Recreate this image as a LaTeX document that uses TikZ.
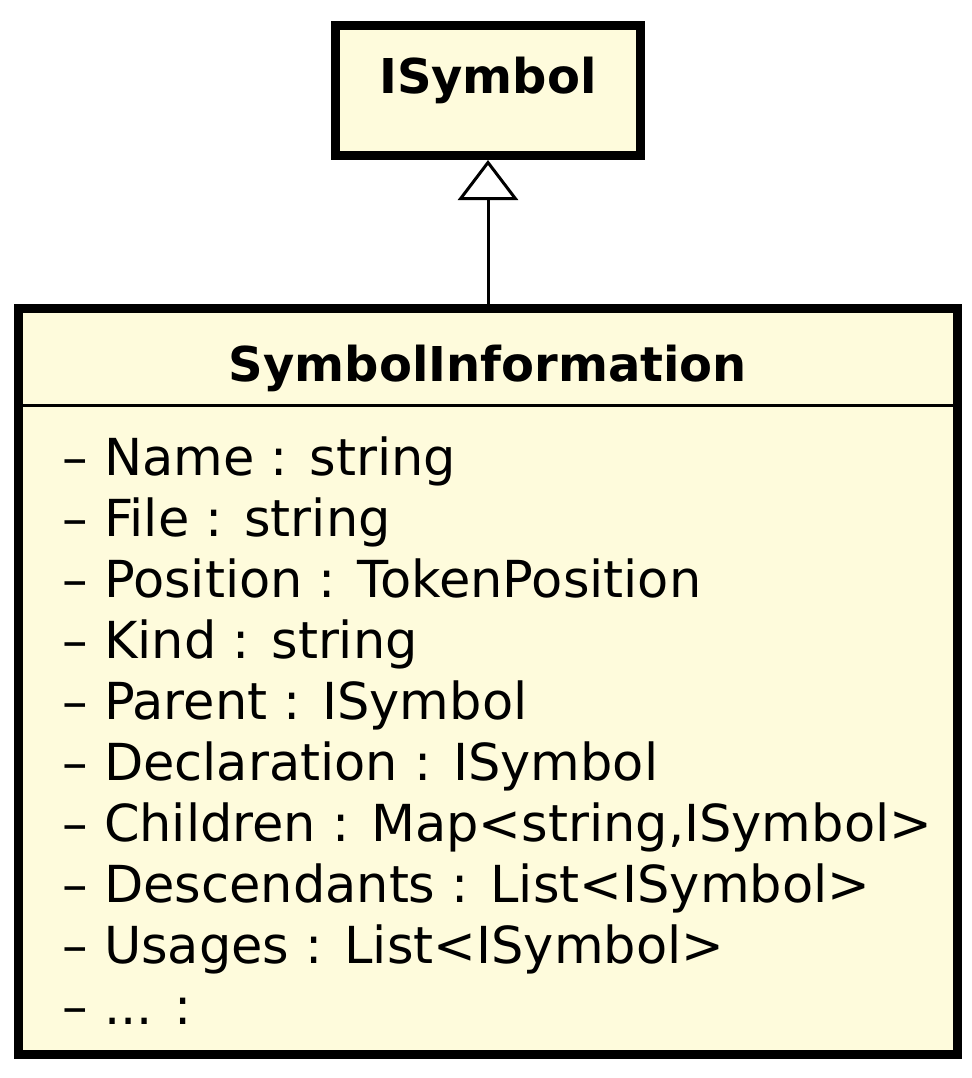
\documentclass[tikz,border=0pt]{standalone}
\usepackage{fontspec}
\setmainfont{DejaVu Sans}
\usetikzlibrary{positioning,arrows.meta}
\definecolor{umlFill}{HTML}{FEFBDC}

\begin{document}
\begin{tikzpicture}[x=0.5pt, y=-0.5pt, font=\fontsize{25.5}{30}\selectfont,
  classbox/.style={draw=black, line width=4.5pt, fill=umlFill, inner sep=0pt},
  classname/.style={anchor=base, inner sep=0pt, font=\fontsize{24}{29}\selectfont\bfseries},
  attr/.style={anchor=base west, inner sep=0pt}]
\useasboundingbox (0,0) rectangle (972,1078);
% interface box
\node[classbox, minimum width=152.5pt, minimum height=65pt] (isym) at (488,90.5) {};
\node[classname] (isymName) at (488,93) {ISymbol};
% class box
\node[classbox, minimum width=469.5pt, minimum height=373pt] (info) at (488,681.5) {};
\node[classname] (infoName) at (488,381) {SymbolInformation};
\coordinate (sep) at (488,405);
\draw[line width=1.5pt] (info.west |- sep) -- (info.east |- sep);
\foreach \txt [count=\i] in {{-- Name : string}, {-- File : string}, {-- Position : TokenPosition},
    {-- Kind : string}, {-- Parent : ISymbol}, {-- Declaration : ISymbol},
    {-- Children : Map<string,ISymbol>}, {-- Descendants : List<ISymbol>},
    {-- Usages : List<ISymbol>}, {-- .{}.{}. :}}
  \node[attr] (attr\i) at (62,{475+61*(\i-1)}) {\txt};
% generalisation
\draw[line width=1.5pt, -{Triangle[open, length=20pt, width=30pt]}] (info.north) -- (isym.south);
\end{tikzpicture}
\end{document}
